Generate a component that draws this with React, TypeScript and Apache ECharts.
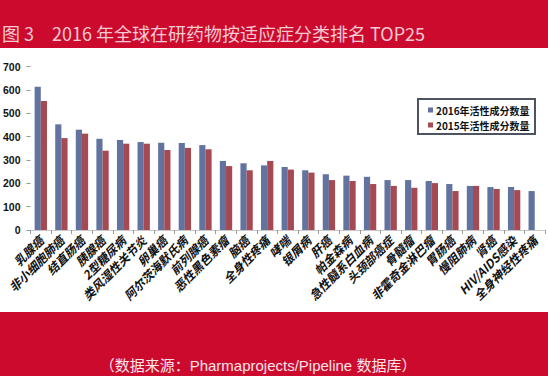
import React, { useEffect, useRef } from "react";
import * as echarts from "echarts";

const categories = [
  "乳腺癌", "非小细胞肺癌", "结直肠癌", "胰腺癌", "2型糖尿病", "类风湿性关节炎",
  "卵巢癌", "阿尔茨海默氏病", "前列腺癌", "恶性黑色素瘤", "脑癌", "全身性疼痛",
  "哮喘", "银屑病", "肝癌", "帕金森病", "急性髓系白血病", "头颈部癌症",
  "骨髓瘤", "非霍奇金淋巴瘤", "胃肠癌", "慢阻肺病", "肾癌", "HIV/AIDS感染", "全身神经性疼痛",
];
const values2016 = [614, 453, 430, 391, 386, 377, 374, 373, 364, 296, 286, 277, 270, 256, 239, 233, 228, 214, 214, 210, 197, 189, 184, 184, 167];
const values2015 = [553, 394, 413, 340, 370, 370, 343, 352, 346, 274, 256, 296, 259, 246, 214, 210, 197, 189, 181, 201, 167, 189, 176, 171, null];
const seriesNames = ["2016年活性成分数量", "2015年活性成分数量"];
const titleLead = "图 3";
const titleMain = "2016 年全球在研药物按适应症分类排名 TOP25";
const sourceText = "（数据来源：Pharmaprojects/Pipeline 数据库）";

export default function App() {
  const ref = useRef<HTMLDivElement>(null);
  useEffect(() => {
    if (!ref.current) return;
    const chart = echarts.init(ref.current, null, { renderer: "svg" });
    const red = "#cc0a2d";
    chart.setOption({
      animation: false,
      backgroundColor: "#ffffff",
      grid: { left: 28, right: 3, top: 66.7, bottom: 146, containLabel: false },
      legend: {
        orient: "vertical",
        left: 423,
        top: 100,
        itemWidth: 5,
        itemHeight: 5,
        itemGap: 5,
        icon: "rect",
        textStyle: {
          fontSize: 10,
          fontWeight: "bold",
          color: "#111",
          fontFamily: "Noto Sans CJK SC",
          padding: [0, 0, 0, -2],
        },
        data: seriesNames,
      },
      xAxis: {
        type: "category",
        data: categories,
        axisLine: { lineStyle: { color: "#c8c8c8" } },
        axisTick: { show: true, length: 4, lineStyle: { color: "#999" } },
        axisLabel: {
          interval: 0,
          rotate: 45,
          margin: 8,
          fontSize: 12,
          fontWeight: "bold",
          fontStyle: "italic",
          color: "#111",
          fontFamily: "Noto Sans CJK SC",
        },
      },
      yAxis: {
        type: "value",
        min: 0,
        max: 700,
        interval: 100,
        axisLine: { show: false },
        axisTick: { show: true, length: 4, lineStyle: { color: "#999" } },
        splitLine: { show: false },
        axisLabel: {
          margin: 10,
          fontSize: 10.5,
          fontWeight: "bold",
          color: "#111",
          fontFamily: "Liberation Sans",
        },
      },
      series: [
        {
          name: seriesNames[0],
          type: "bar",
          data: values2016,
          barWidth: "30%",
          barGap: "0%",
          itemStyle: { color: "#62739f" },
        },
        {
          name: seriesNames[1],
          type: "bar",
          data: values2015,
          barWidth: "30%",
          barGap: "0%",
          itemStyle: { color: "#a54a53" },
        },
      ],
      graphic: [
        { type: "rect", left: 0, top: 0, shape: { width: 548, height: 48 }, style: { fill: red }, z: -1 },
        { type: "rect", left: 0, top: 312, shape: { width: 548, height: 64 }, style: { fill: red }, z: -1 },
        {
          type: "rect",
          left: 417,
          top: 98,
          shape: { width: 117, height: 35 },
          style: { fill: "#fff", stroke: "#4d5363", lineWidth: 2 },
          z: 0,
        },
        {
          type: "text",
          x: 2,
          y: 33,
          style: {
            text: titleLead,
            fill: "#f5c9d3",
            fontSize: 18,
            fontFamily: "Noto Sans CJK SC",
            verticalAlign: "middle",
          },
        },
        {
          type: "text",
          x: 52,
          y: 33,
          style: {
            text: titleMain,
            fill: "#f5c9d3",
            fontSize: 18,
            fontFamily: "Noto Sans CJK SC",
            verticalAlign: "middle",
          },
        },
        {
          type: "text",
          x: 258,
          y: 365,
          style: {
            text: sourceText,
            fill: "#f7e4e8",
            fontSize: 15,
            fontFamily: "Liberation Sans, Noto Sans CJK SC",
            align: "center",
            verticalAlign: "middle",
          },
        },
      ],
    });
    return () => chart.dispose();
  }, []);
  return (
    <div
      ref={ref}
      style={{ position: "fixed", left: 0, top: 0, width: 548, height: 376 }}
    />
  );
}
